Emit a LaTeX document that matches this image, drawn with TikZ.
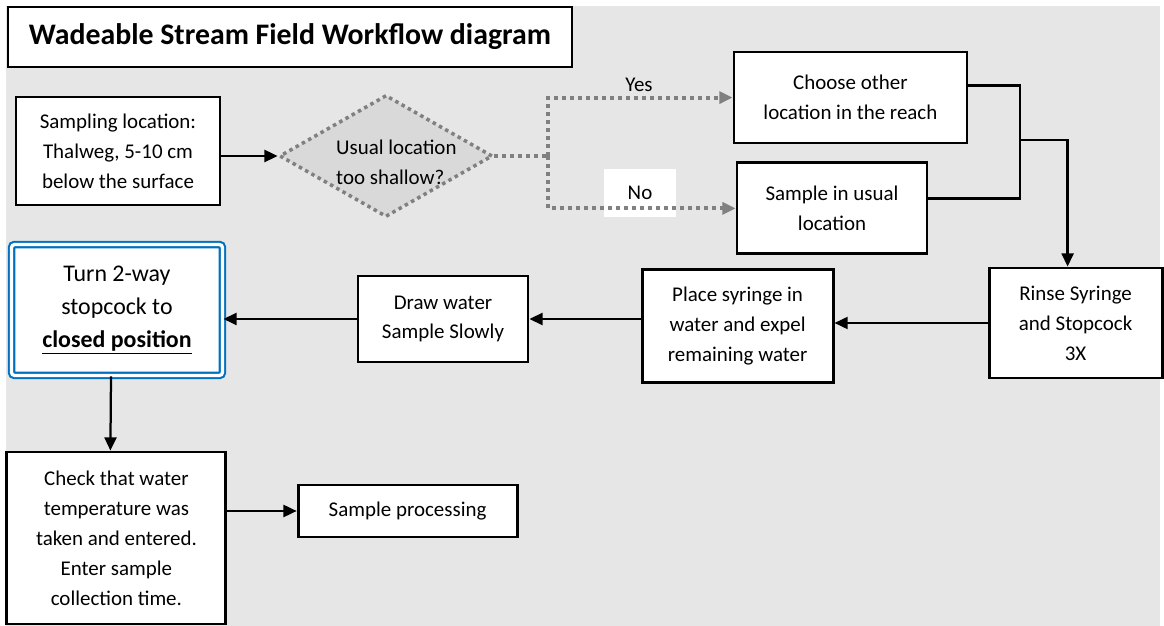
\documentclass[tikz,border=0pt]{standalone}
\usepackage{fontspec}
\setmainfont{Carlito}
\usetikzlibrary{calc, shapes.geometric, arrows.meta}

\definecolor{bgGray}{RGB}{230,230,230}
\definecolor{qGray}{RGB}{217,217,217}
\definecolor{dotGray}{RGB}{128,128,128}
\definecolor{blueBox}{RGB}{0,112,192}

\tikzset{
	box/.style={draw=black, fill=white, line width=2pt, align=center, inner sep=0pt,
		font=\fontsize{14.9}{21.3}\selectfont},
	link/.style={line width=1.6pt},
	arr/.style={line width=1.6pt, -{Triangle[length=0.33cm, width=0.3cm]}},
	dotline/.style={draw=dotGray, line width=2.8pt, dash pattern=on 2.8pt off 2.9pt},
	dotarr/.style={dotline, -{Triangle[length=0.33cm, width=0.3cm]}},
	lbl/.style={inner sep=0pt, font=\fontsize{14.9}{21.3}\selectfont},
}

\begin{document}
\begin{tikzpicture}[line cap=butt]

\useasboundingbox (0,0) rectangle (29.1,15.65);

% Background
\fill[bgGray] (0.15,0) rectangle (29.0,15.5);

%Coordinates
\coordinate (split) at (13.7,11.75);
\coordinate (merge) at (25.5,12.15);

% Nodes
\node[box, line width=1.3pt, minimum width=14.1cm, minimum height=1.5cm,
	font=\fontsize{21.2}{25}\selectfont\bfseries] (title) at (7.25,14.725)
	{Wadeable Stream Field Workflow diagram};

\node[box, minimum width=5.1cm, minimum height=2.7cm] (start) at (2.95,11.875)
	{Sampling location:\\Thalweg, 5-10 cm\\below the surface};

\node[diamond, draw=dotGray, fill=qGray, line width=2.5pt, dash pattern=on 2.5pt off 2.6pt,
	inner sep=0pt, minimum width=5.33cm, minimum height=3.05cm] (quest) at (9.65,11.75) {};
\node[lbl, align=left] (questtxt) at (9.91,11.6) {Usual location\\too shallow?};

\node[box, minimum width=5.825cm, minimum height=2.275cm] (other) at (21.26,13.21)
	{Choose other\\location in the reach};
\node[box, minimum width=4.75cm, minimum height=2.275cm] (usual) at (20.8,10.44)
	{Sample in usual\\location};

\node[lbl] (yes) at (15.975,13.525) {Yes};
\node[lbl, fill=white, minimum width=1.8cm, minimum height=1.2cm] (no) at (16.0,10.825) {No};

\node[box, minimum width=4.325cm, minimum height=2.75cm] (rinse) at (26.89,7.575)
	{Rinse Syringe\\and Stopcock\\3X};
\node[box, minimum width=4.775cm, minimum height=2.825cm] (place) at (18.44,7.49)
	{Place syringe in\\water and expel\\remaining water};
\node[box, minimum width=4.25cm, minimum height=2.15cm] (slow) at (11.075,7.675)
	{Draw water\\Sample Slowly};

\node[box, draw=blueBox, double=white, double distance=2.3pt, line width=1.5pt,
	rounded corners=2pt, minimum width=5.27cm, minimum height=3.27cm,
	font=\fontsize{17}{23.5}\selectfont] (stopcock) at (2.925,7.9)
	{Turn 2-way\\stopcock to\\\textbf{\underline{closed position}}};

\node[box, minimum width=5.475cm, minimum height=4.3cm] (check) at (2.91,2.2)
	{Check that water\\temperature was\\taken and entered.\\Enter sample\\collection time.};
\node[box, minimum width=5.475cm, minimum height=1.3cm] (proc) at (10.19,2.875)
	{Sample processing};

% Paths
\draw[arr] (start.east |- quest.west) -- (quest.west);

\draw[dotline] (quest.east) -- (split);
\draw[dotarr] (split) |- (other.west);
\draw[dotarr] (split) |- (usual.west);

\draw[link] ([yshift=0.3cm]other.east) -| (merge);
\draw[link] ([yshift=0.25cm]usual.east) -| (merge);
\draw[arr] (merge) -| ([xshift=-0.2cm]rinse.north);

\draw[arr] (rinse.west) -- (rinse.west -| place.east);
\draw[arr] (place.west |- slow.east) -- (slow.east);
\draw[arr] (slow.west) -- (slow.west -| stopcock.east);
\draw[arr] ([xshift=-0.15cm]stopcock.south) -- ([xshift=-0.15cm]check.north);
\draw[arr] (check.east |- proc.west) -- (proc.west);

\end{tikzpicture}
\end{document}
